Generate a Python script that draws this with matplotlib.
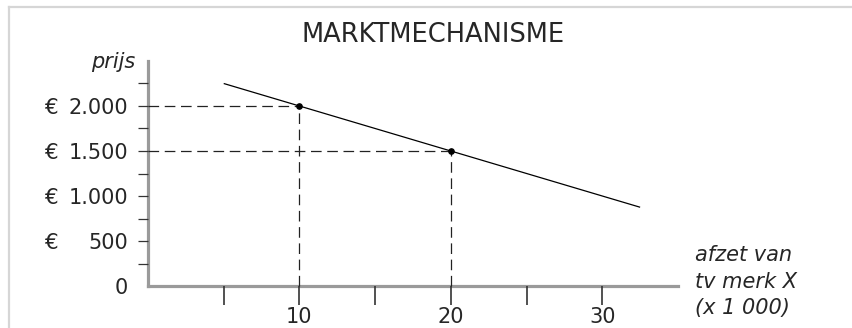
import matplotlib
matplotlib.use('Agg')
import matplotlib.pyplot as plt
from matplotlib.lines import Line2D
from matplotlib.ticker import FixedLocator, FuncFormatter

# data
line_x = [5, 32.5]
line_y = [2250, 875]
point_x = [10, 20]
point_y = [2000, 1500]
y_major = [0, 500, 1000, 1500, 2000]
y_minor = [250, 750, 1250, 1750, 2250]
x_major = [10, 20, 30]
x_minor = [5, 15, 25]
title = 'MARKTMECHANISME'
y_label = 'prijs'
x_label = 'afzet van\ntv merk X\n(x 1 000)'

W, H = 853, 328
txt = '#262626'
spine_col = '#9a9a9a'

fig = plt.figure(figsize=(W / 100, H / 100), dpi=100)
ax = fig.add_axes([148 / W, 42 / H, 530 / W, 225 / H])
ax.set_xlim(0, 35)
ax.set_ylim(0, 2500)

# demand line and points
ax.plot(line_x, line_y, color='black', lw=0.9, solid_capstyle='butt')
ax.plot(point_x, point_y, 'o', color='black', ms=3.8, zorder=5)

# dashed guides
for px, py in zip(point_x, point_y):
    ax.plot([0, px], [py, py], color='#222222', lw=0.9, dashes=(8.5, 4.5), clip_on=False)
    ax.plot([px, px], [0, py], color='#222222', lw=0.9, dashes=(8.5, 4.5), clip_on=False)

# spines
for s in ['top', 'right']:
    ax.spines[s].set_visible(False)
for s in ['left', 'bottom']:
    ax.spines[s].set_color(spine_col)
    ax.spines[s].set_linewidth(2.3)
    ax.spines[s].set_zorder(1)

# y ticks
ax.yaxis.set_major_locator(FixedLocator(y_major))
ax.yaxis.set_minor_locator(FixedLocator(y_minor))
ax.yaxis.set_major_formatter(FuncFormatter(lambda v, p: f'{int(v):,}'.replace(',', '.')))
ax.tick_params(axis='y', which='both', direction='out', length=7.5, width=0.9,
               color='#333333', pad=7, labelsize=15, labelcolor=txt)
ax.yaxis.get_major_ticks()[0].tick1line.set_visible(False)

# x ticks
ax.xaxis.set_major_locator(FixedLocator(x_major))
ax.xaxis.set_minor_locator(FixedLocator(x_minor))
ax.tick_params(axis='x', which='both', direction='out', length=13.5, width=1.2,
               color='#333333', pad=1.5, labelsize=15, labelcolor=txt)

# euro signs in front of the price labels
for v in y_major[1:]:
    ax.text(-0.196, v, '€', transform=ax.get_yaxis_transform(), ha='left',
            va='center_baseline', fontsize=15.5, color=txt)

ax.text(-0.024, 0.995, y_label, transform=ax.transAxes, ha='right', va='center',
        fontsize=15, style='italic', color=txt)
ax.text(1.032, 0.02, x_label, transform=ax.transAxes, ha='left', va='center',
        fontsize=15, style='italic', color=txt, linespacing=1.38)

fig.text(433 / W, 1 - 42.5 / H, title, ha='center', va='baseline', fontsize=18.5, color=txt)

# light frame (top and left edge)
fig.add_artist(Line2D([9 / W, 1], [1 - 7 / H, 1 - 7 / H], color='#d6d6d6', lw=1.6,
                      transform=fig.transFigure))
fig.add_artist(Line2D([9 / W, 9 / W], [0, 1 - 7 / H], color='#d6d6d6', lw=1.6,
                      transform=fig.transFigure))

fig.savefig('out.png', dpi=100)
